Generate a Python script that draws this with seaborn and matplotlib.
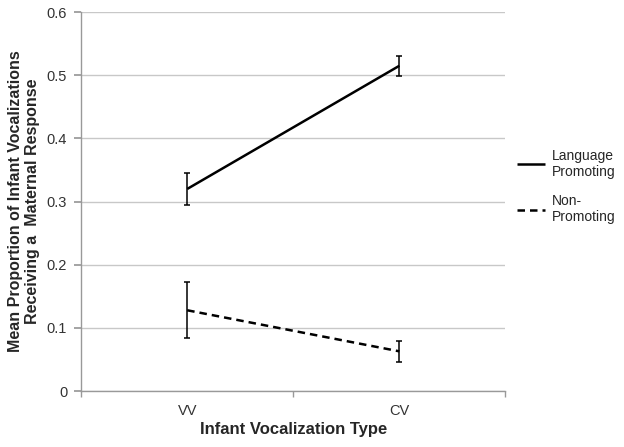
import numpy as np
import pandas as pd
import matplotlib
matplotlib.use("Agg")
import matplotlib.pyplot as plt
import seaborn as sns

# ── Data ───────────────────────────────────────
voc_types = ["VV", "CV"]
lang_mean = [0.320, 0.515]
lang_err = [0.026, 0.016]
non_mean = [0.128, 0.063]
non_err = [0.044, 0.017]
y_ticks = [0, 0.1, 0.2, 0.3, 0.4, 0.5, 0.6]

df = pd.DataFrame({
    "type": voc_types * 2,
    "x": [0, 1] * 2,
    "mean": lang_mean + non_mean,
    "err": lang_err + non_err,
    "group": ["Language\nPromoting"] * 2 + ["Non-\nPromoting"] * 2,
})

sns.set_theme(style="white")
plt.rcParams["font.family"] = ["Liberation Sans", "DejaVu Sans"]

fig = plt.figure(figsize=(6.24, 4.47), dpi=100)
ax = fig.add_axes([0.13, 0.125, 0.68, 0.848])

sns.lineplot(data=df, x="x", y="mean", hue="group", style="group",
             palette=["black", "black"], dashes=[(1, 0), (3, 2)],
             linewidth=1.8, ax=ax, legend=True)

for _, row in df.iterrows():
    ax.errorbar(row["x"], row["mean"], yerr=row["err"], fmt="none",
                ecolor="black", elinewidth=1.1, capsize=2.5, capthick=1.1)

ax.set_xlim(-0.5, 1.5)
ax.set_ylim(0, 0.6)
ax.set_yticks(y_ticks)
ax.set_yticklabels([f"{t:g}" for t in y_ticks])
ax.set_xticks([0, 1])
ax.set_xticklabels(voc_types)
ax.set_xticks([-0.5, 0.5, 1.5], minor=True)
ax.tick_params(axis="x", which="major", length=0, labelsize=10.5,
               colors="#333333", pad=9)
ax.tick_params(axis="x", which="minor", length=4, color="#999999",
               direction="out", bottom=True)
ax.tick_params(axis="y", length=5, color="#999999", direction="out",
               labelsize=10.5, colors="#333333", left=True, pad=5)

ax.yaxis.grid(True, color="#c8c8c8", linewidth=1)
ax.set_axisbelow(True)
for s in ["top", "right"]:
    ax.spines[s].set_visible(False)
for s in ["left", "bottom"]:
    ax.spines[s].set_color("#999999")
    ax.spines[s].set_linewidth(1)

ax.set_xlabel("Infant Vocalization Type", fontsize=12, fontweight="bold",
              labelpad=3)
ax.set_ylabel("Mean Proportion of Infant Vocalizations\nReceiving a  Maternal Response",
              fontsize=11.5, fontweight="bold", labelpad=5)

handles, labels = ax.get_legend_handles_labels()
ax.legend(handles, labels, loc="center left", bbox_to_anchor=(1.015, 0.54),
          frameon=False, fontsize=10, handlelength=2.0, labelspacing=1.1,
          borderaxespad=0, handletextpad=0.5)

plt.savefig("out.png", dpi=100)
